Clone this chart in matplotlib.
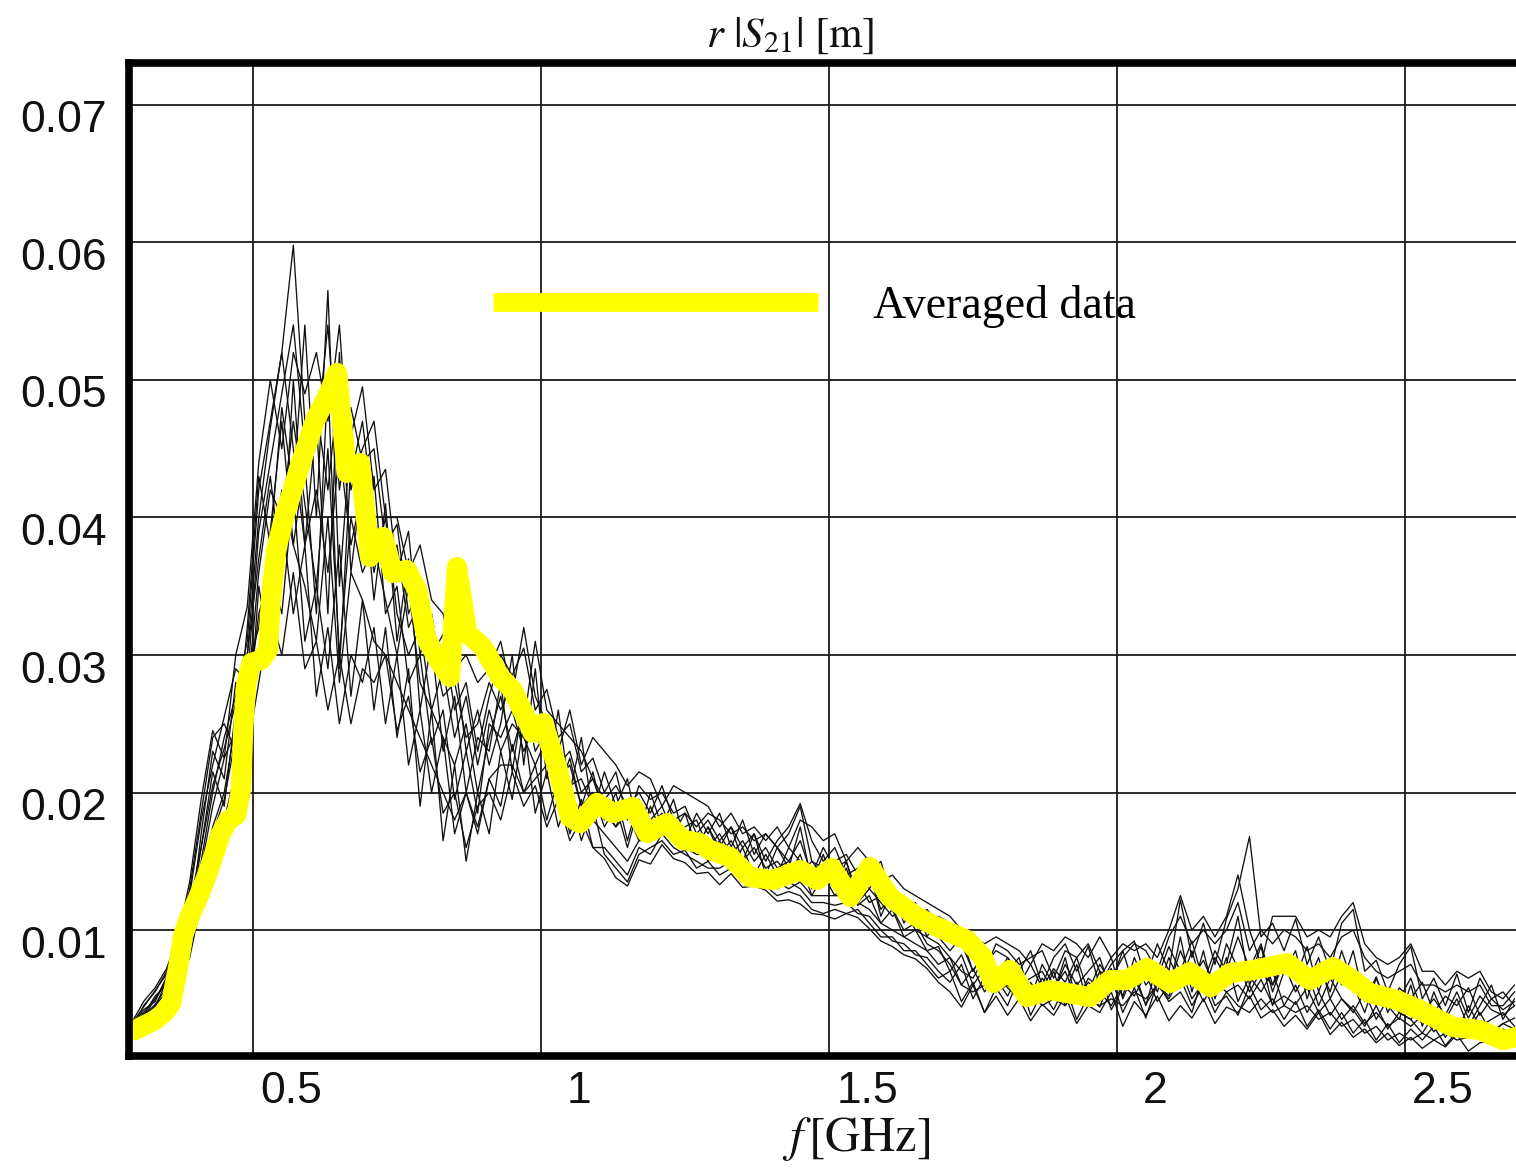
import numpy as np
import matplotlib
matplotlib.use("Agg")
import matplotlib.pyplot as plt
from matplotlib.transforms import ScaledTranslation
from matplotlib.font_manager import FontProperties

# ---------------- data ----------------
# common frequency sampling of the individual measured traces [GHz]
freq_grid = np.round(np.arange(0.29, 2.691, 0.02), 2)

# individual traces, r|S21| in units of 1e-4 m
trace_01 = [30, 42, 48, 66, 72, 118, 160, 205, 232, 265, 300,
            400, 465, 520, 598, 470, 455, 540, 420, 480, 440,
            450, 380, 395, 330, 350, 300, 315, 260, 280, 230,
            270, 300, 285, 305, 260, 275, 240, 250, 215, 225,
            200, 215, 180, 205, 195, 200, 185, 190, 170, 180,
            165, 175, 160, 170, 150, 165, 175, 192, 165, 150,
            160, 140, 145, 130, 145, 125, 120, 115, 110, 100,
            95, 88, 90, 75, 85, 80, 70, 85, 60, 80,
            90, 70, 88, 60, 75, 85, 92, 65, 90, 70,
            122, 80, 105, 75, 108, 130, 168, 95, 105, 85,
            108, 75, 95, 70, 105, 115, 70, 78, 55, 75,
            88, 50, 65, 45, 68, 40, 65, 50, 55, 45]
trace_02 = [26, 33, 45, 55, 64, 85, 125, 160, 180, 215, 240,
            300, 360, 330, 420, 310, 350, 290, 380, 270, 340,
            260, 320, 240, 290, 190, 260, 165, 220, 150, 200,
            170, 230, 195, 250, 185, 215, 175, 200, 165, 190,
            155, 145, 135, 155, 160, 165, 155, 158, 145, 150,
            140, 145, 135, 140, 132, 125, 128, 125, 115, 112,
            115, 112, 115, 105, 95, 95, 85, 85, 75, 65,
            70, 48, 62, 40, 58, 45, 66, 38, 55, 42,
            60, 35, 52, 44, 66, 40, 58, 36, 62, 48,
            55, 40, 68, 45, 52, 38, 60, 42, 50, 35,
            48, 30, 42, 28, 40, 25, 35, 20, 32, 18,
            28, 20, 30, 16, 26, 22, 30, 18, 28, 24]
trace_03 = [31, 38, 52, 60, 85, 100, 170, 230, 210, 280, 270,
            360, 420, 400, 470, 410, 350, 450, 300, 400, 360,
            380, 340, 300, 350, 280, 260, 240, 220, 250, 200,
            240, 270, 230, 260, 240, 230, 220, 230, 200, 210,
            185, 175, 195, 180, 175, 185, 170, 175, 180, 160,
            170, 155, 165, 150, 160, 145, 150, 140, 150, 140,
            130, 145, 120, 130, 120, 110, 115, 100, 95, 90,
            80, 70, 65, 80, 70, 75, 60, 65, 70, 55,
            75, 60, 70, 80, 55, 70, 60, 75, 55, 80,
            60, 85, 55, 80, 65, 75, 55, 70, 60, 75,
            55, 70, 45, 65, 50, 40, 55, 35, 50, 40,
            35, 45, 30, 40, 25, 45, 30, 35, 40, 30]
trace_04 = [28, 45, 55, 70, 90, 130, 185, 240, 250, 230, 320,
            430, 380, 480, 420, 540, 400, 565, 350, 460, 495,
            420, 435, 360, 390, 300, 330, 280, 300, 230, 260,
            220, 250, 300, 220, 290, 210, 260, 200, 240, 185,
            215, 190, 210, 170, 200, 175, 195, 165, 185, 170,
            185, 160, 180, 155, 170, 160, 150, 165, 140, 160,
            145, 150, 125, 145, 110, 130, 105, 120, 95, 110,
            105, 90, 70, 85, 60, 70, 80, 50, 75, 60,
            55, 75, 45, 65, 80, 50, 70, 45, 75, 55,
            95, 55, 85, 50, 75, 110, 60, 80, 45, 70,
            85, 50, 75, 55, 85, 60, 40, 65, 45, 35,
            60, 30, 55, 35, 50, 30, 45, 60, 35, 50]
trace_05 = [27, 35, 42, 52, 62, 90, 140, 175, 200, 250, 235,
            350, 300, 400, 330, 380, 270, 320, 250, 300, 280,
            320, 250, 300, 220, 260, 200, 240, 170, 200, 175,
            210, 190, 235, 200, 220, 180, 210, 170, 195, 160,
            160, 150, 140, 160, 155, 170, 160, 155, 150, 145,
            145, 150, 145, 135, 140, 130, 135, 130, 120, 120,
            118, 120, 112, 110, 100, 92, 90, 82, 80, 70,
            62, 75, 50, 66, 55, 72, 48, 60, 52, 70,
            45, 62, 50, 70, 42, 58, 65, 46, 60, 52,
            72, 50, 62, 55, 80, 48, 66, 55, 70, 45,
            60, 40, 55, 38, 50, 42, 30, 45, 28, 40,
            35, 25, 38, 22, 35, 28, 40, 25, 32, 28]
trace_06 = [33, 48, 58, 72, 95, 135, 195, 245, 225, 300, 335,
            440, 500, 450, 520, 490, 520, 470, 540, 420, 450,
            470, 400, 400, 360, 380, 340, 330, 290, 300, 280,
            290, 310, 270, 320, 270, 250, 230, 260, 220, 240,
            230, 220, 205, 215, 210, 190, 205, 200, 195, 190,
            175, 185, 170, 175, 165, 175, 160, 180, 175, 165,
            170, 150, 160, 150, 135, 140, 130, 125, 120, 115,
            110, 100, 95, 90, 95, 90, 85, 75, 90, 85,
            95, 90, 80, 95, 80, 90, 85, 90, 80, 100,
            125, 100, 110, 95, 110, 140, 100, 75, 110, 110,
            110, 95, 100, 95, 110, 120, 90, 80, 75, 80,
            90, 70, 70, 60, 70, 65, 70, 55, 50, 60]
trace_07 = [25, 31, 40, 50, 60, 80, 120, 150, 170, 200, 230,
            280, 330, 300, 360, 290, 310, 260, 300, 250, 290,
            280, 300, 245, 270, 215, 240, 185, 200, 160, 190,
            200, 180, 215, 190, 205, 175, 195, 165, 180, 160,
            152, 138, 132, 151, 148, 162, 152, 149, 141, 142,
            133, 141, 131, 132, 129, 121, 122, 119, 112, 111,
            108, 112, 109, 101, 92, 88, 82, 79, 72, 62,
            55, 44, 60, 40, 52, 38, 50, 34, 46, 38,
            52, 32, 45, 40, 55, 30, 48, 38, 52, 34,
            45, 36, 50, 32, 44, 40, 52, 36, 42, 30,
            38, 28, 40, 24, 33, 22, 28, 18, 25, 16,
            22, 14, 20, 15, 24, 12, 18, 20, 14, 18]
trace_08 = [29, 40, 50, 64, 78, 110, 150, 200, 240, 270, 310,
            420, 470, 520, 450, 380, 420, 360, 450, 380, 420,
            360, 400, 330, 300, 320, 260, 290, 240, 270, 220,
            260, 230, 250, 240, 220, 240, 210, 220, 190, 200,
            175, 190, 160, 190, 170, 180, 175, 170, 160, 175,
            155, 165, 150, 160, 145, 150, 140, 155, 130, 135,
            140, 130, 135, 120, 125, 115, 100, 105, 90, 85,
            75, 60, 55, 60, 55, 60, 50, 55, 45, 50,
            45, 55, 50, 45, 50, 45, 55, 50, 60, 50,
            65, 45, 60, 40, 55, 45, 40, 50, 40, 45,
            40, 45, 35, 40, 30, 35, 25, 30, 20, 25,
            20, 25, 20, 25, 20, 22, 25, 30, 25, 28]
trace_09 = [32, 44, 56, 68, 98, 125, 180, 220, 255, 290, 280,
            390, 440, 490, 540, 450, 480, 420, 500, 430, 470,
            400, 360, 380, 320, 340, 310, 270, 280, 240, 250,
            280, 260, 280, 250, 310, 260, 250, 240, 230, 210,
            195, 205, 190, 200, 185, 205, 180, 185, 175, 185,
            180, 170, 175, 165, 170, 160, 170, 190, 150, 145,
            150, 155, 140, 140, 150, 120, 125, 110, 115, 105,
            100, 95, 80, 70, 90, 85, 75, 80, 85, 65,
            85, 80, 90, 70, 65, 80, 90, 85, 70, 95,
            110, 90, 100, 90, 100, 120, 85, 100, 90, 100,
            95, 85, 90, 80, 95, 100, 80, 70, 65, 70,
            75, 60, 60, 55, 60, 55, 60, 45, 45, 55]
trace_10 = [28, 37, 46, 58, 70, 95, 135, 170, 195, 240, 260,
            330, 360, 420, 380, 350, 310, 400, 280, 360, 340,
            310, 300, 280, 260, 240, 220, 200, 180, 200, 170,
            210, 220, 220, 200, 210, 220, 200, 190, 185, 180,
            170, 160, 150, 165, 165, 175, 165, 160, 155, 155,
            150, 150, 150, 145, 140, 135, 130, 135, 125, 125,
            125, 125, 120, 115, 105, 100, 95, 90, 85, 75,
            80, 60, 72, 55, 68, 58, 50, 62, 48, 58,
            70, 50, 62, 55, 45, 60, 52, 68, 48, 60,
            58, 66, 48, 62, 55, 60, 50, 64, 46, 52,
            46, 58, 40, 50, 35, 45, 32, 40, 30, 36,
            30, 38, 26, 35, 30, 28, 34, 26, 32, 36]
trace_11 = [29, 36, 50, 62, 82, 105, 160, 215, 190, 260, 300,
            370, 430, 360, 500, 380, 470, 330, 520, 360, 430,
            340, 410, 310, 370, 260, 310, 230, 270, 200, 240,
            230, 280, 215, 270, 230, 245, 200, 225, 190, 215,
            180, 200, 165, 195, 180, 190, 170, 185, 160, 175,
            160, 175, 150, 170, 140, 160, 145, 175, 135, 155,
            130, 150, 120, 140, 115, 125, 110, 115, 100, 95,
            85, 95, 70, 85, 65, 80, 60, 75, 58, 72,
            62, 80, 55, 75, 62, 85, 58, 78, 65, 88,
            70, 92, 62, 85, 70, 95, 72, 90, 60, 82,
            65, 88, 55, 78, 60, 85, 48, 66, 40, 58,
            50, 62, 40, 52, 45, 58, 38, 50, 42, 48]
trace_12 = [30, 39, 44, 63, 88, 112, 145, 190, 225, 245, 290,
            320, 390, 470, 380, 440, 330, 500, 290, 440, 380,
            430, 330, 350, 280, 300, 235, 260, 195, 230, 185,
            250, 240, 260, 230, 250, 225, 230, 205, 210, 190,
            190, 175, 185, 165, 190, 170, 180, 160, 170, 150,
            165, 145, 160, 140, 155, 140, 160, 150, 125, 140,
            125, 135, 118, 125, 105, 115, 95, 100, 85, 88,
            70, 82, 60, 72, 65, 52, 68, 48, 65, 55,
            80, 48, 65, 58, 72, 52, 80, 60, 70, 58,
            85, 65, 78, 58, 90, 72, 65, 88, 55, 78,
            72, 60, 80, 50, 68, 55, 62, 45, 58, 50,
            65, 40, 50, 38, 55, 36, 52, 42, 38, 45]

traces = [trace_01, trace_02, trace_03, trace_04, trace_05, trace_06,
          trace_07, trace_08, trace_09, trace_10, trace_11, trace_12]

# averaged data
avg_freq = [0.295, 0.3125, 0.330, 0.347, 0.358, 0.370, 0.379, 0.391, 0.403,
            0.417, 0.429, 0.443, 0.457, 0.471, 0.479, 0.483, 0.488, 0.497,
            0.514, 0.526, 0.531, 0.540, 0.556, 0.566, 0.583, 0.608, 0.630,
            0.646, 0.663, 0.686, 0.703, 0.726, 0.743, 0.767, 0.785, 0.802,
            0.825, 0.842, 0.854, 0.872, 0.899, 0.929, 0.951, 0.986, 1.004,
            1.028, 1.050, 1.068, 1.097, 1.125, 1.160, 1.184, 1.219, 1.247,
            1.276, 1.293, 1.328, 1.363, 1.403, 1.450, 1.479, 1.505, 1.537,
            1.571, 1.606, 1.653, 1.688, 1.740, 1.767, 1.785, 1.814, 1.844,
            1.884, 1.913, 1.953, 1.988, 2.017, 2.052, 2.092, 2.127, 2.162,
            2.196, 2.236, 2.295, 2.335, 2.375, 2.410, 2.439, 2.486, 2.526,
            2.583, 2.630, 2.670, 2.693]
avg_value = [0.00273, 0.00309, 0.00345, 0.00404, 0.00469, 0.00731, 0.00964,
             0.01109, 0.01218, 0.01364, 0.01509, 0.01691, 0.01800, 0.01836,
             0.02018, 0.02455, 0.02782, 0.02942, 0.02964, 0.03036, 0.03400,
             0.03764, 0.04033, 0.04164, 0.04396, 0.04709, 0.04891, 0.05051,
             0.04324, 0.04396, 0.03713, 0.03858, 0.03596, 0.03618, 0.03473,
             0.03109, 0.02942, 0.02840, 0.03640, 0.03160, 0.03058, 0.02840,
             0.02745, 0.02433, 0.02505, 0.02185, 0.01822, 0.01778, 0.01924,
             0.01851, 0.01895, 0.01705, 0.01778, 0.01655, 0.01633, 0.01582,
             0.01531, 0.01385, 0.01364, 0.01436, 0.01364, 0.01451, 0.01240,
             0.01458, 0.01240, 0.01095, 0.01022, 0.00927, 0.00804, 0.00615,
             0.00709, 0.00513, 0.00564, 0.00542, 0.00513, 0.00636, 0.00636,
             0.00724, 0.00615, 0.00695, 0.00585, 0.00687, 0.00709, 0.00760,
             0.00636, 0.00731, 0.00636, 0.00542, 0.00491, 0.00418, 0.00295,
             0.00273, 0.00200, 0.00222]

x_ticks = [0.5, 1.0, 1.5, 2.0, 2.5]
x_tick_labels = ["0.5", "1", "1.5", "2", "2.5"]
y_ticks = [0.01, 0.02, 0.03, 0.04, 0.05, 0.06, 0.07]
y_tick_labels = ["0.01", "0.02", "0.03", "0.04", "0.05", "0.06", "0.07"]
legend_label = "Averaged data"

# ---------------- figure ----------------
plt.rcParams["mathtext.fontset"] = "stix"
W, H = 1516, 1170
fig = plt.figure(figsize=(W / 100, H / 100), dpi=100)
ax = fig.add_axes([129 / W, (H - 1056) / H, (1525 - 129) / W, (1056 - 63) / H])

for tr in traces:
    ax.plot(freq_grid, np.asarray(tr) * 1e-4, color="#111111", lw=0.95, zorder=2)

avg_line, = ax.plot(avg_freq, avg_value, color="#ffff00", lw=14.5,
                    solid_capstyle="round", solid_joinstyle="round",
                    zorder=3, label=legend_label)

ax.set_xlim(0.2847, 2.7083)
ax.set_ylim(0.00084, 0.07305)
ax.set_xticks(x_ticks, labels=x_tick_labels)
ax.set_yticks(y_ticks, labels=y_tick_labels)
ax.grid(True, color="#1a1a1a", lw=1.3, zorder=1)
ax.set_axisbelow(True)
ax.tick_params(length=0, labelsize=32, labelcolor="#111111")
ax.tick_params(axis="x", pad=11)
ax.tick_params(axis="y", pad=16)
for lab in ax.get_xticklabels() + ax.get_yticklabels():
    lab.set_fontfamily("Liberation Sans")
for lab in ax.get_xticklabels():
    lab.set_transform(lab.get_transform() + ScaledTranslation(0.38, 0, fig.dpi_scale_trans))
for lab in ax.get_yticklabels():
    lab.set_transform(lab.get_transform() + ScaledTranslation(0, -0.115, fig.dpi_scale_trans))

for s in ax.spines.values():
    s.set_linewidth(5.5)
    s.set_color("black")
    s.set_zorder(6)

leg = ax.legend(handles=[avg_line], labels=[legend_label], loc="center left",
                bbox_to_anchor=(0.2607, 0.7543), frameon=False, borderpad=0,
                borderaxespad=0, handlelength=7.1, handletextpad=1.2,
                prop=FontProperties(family="Liberation Serif", size=33))
for ln in leg.get_lines():
    ln.set_solid_capstyle("butt")
    ln.set_linewidth(13.5)

fig.text(790 / W, 1 - 35 / H, r"$r\ |S_{21}|\ [\mathrm{m}]$", fontsize=31,
         ha="center", va="center", color="#111111")
fig.text(856 / W, 1 - 1139 / H, r"$f\,[\mathrm{GHz}]$", fontsize=35,
         ha="center", va="center", color="#111111")

fig.savefig("out.png", dpi=100)
